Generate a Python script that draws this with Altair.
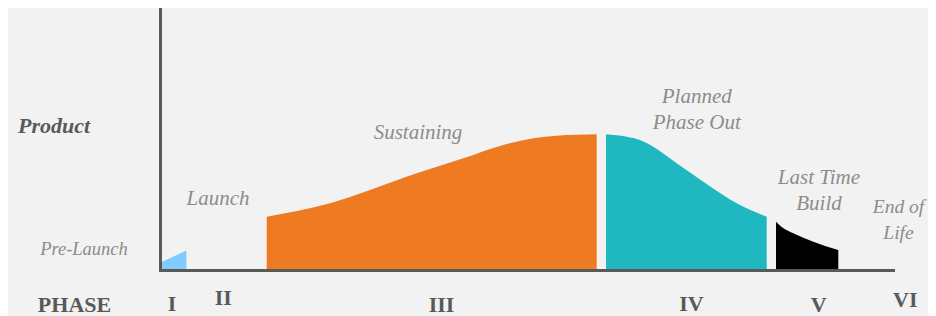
import altair as alt
import pandas as pd

# ---- area segments (x: time 0-100, y: product volume 0-100) ----
seg_names = ["Pre-Launch", "Sustaining", "Phase Out", "Last Time Build"]
seg_colors = ["#80CCFF", "#EE7A22", "#1FB8C1", "#000000"]

blue_x = [0.0, 3.6]
blue_y = [2.8, 7.4]
orange_x = [14.56, 23.19, 28.65, 35.02, 41.38, 46.84, 50.93, 54.12, 59.58]
orange_y = [20.34, 25.46, 30.53, 36.91, 42.63, 47.71, 50.27, 51.26, 51.79]
teal_x = [60.85, 63.67, 65.48, 67.30, 70.49, 74.12, 78.68, 82.77]
teal_y = [51.79, 50.88, 49.62, 47.06, 40.73, 33.70, 25.46, 20.34]
black_x = [84.04, 84.81, 86.40, 89.13, 92.54]
black_y = [18.44, 16.41, 14.01, 10.80, 7.63]

# ---- italic stage labels ----
stage_labels = ["Pre-Launch", "Launch", "Sustaining", "Planned", "Phase Out",
                "Last Time", "Build", "End of", "Life"]
stage_x = [-10.37, 7.91, 35.20, 73.22, 73.22, 89.90, 89.90, 100.75, 100.75]
stage_y = [5.73, 24.81, 50.0, 63.63, 53.70, 32.71, 22.90, 21.64, 11.72]
stage_size = [18.5, 21, 21, 21, 21, 21, 21, 19.5, 19.5]

# ---- bold labels ----
title_labels = ["Product"]
title_x = [-14.46]
title_y = [52.29]

phase_labels = ["PHASE", "I", "II", "III", "IV", "V", "VI"]
phase_x = [-11.66, 1.64, 8.64, 38.40, 72.49, 89.86, 101.68]
phase_y = [-15.92, -15.65, -13.36, -16.0, -15.53, -15.92, -14.0]

rows = []
for name, sx, sy in zip(seg_names, [blue_x, orange_x, teal_x, black_x],
                        [blue_y, orange_y, teal_y, black_y]):
    for a, b in zip(sx, sy):
        rows.append({"segment": name, "x": a, "y": b})
area_df = pd.DataFrame(rows)

stage_df = pd.DataFrame({"label": stage_labels, "x": stage_x, "y": stage_y, "size": stage_size})
title_df = pd.DataFrame({"label": title_labels, "x": title_x, "y": title_y})
phase_df = pd.DataFrame({"label": phase_labels, "x": phase_x, "y": phase_y})

axis = alt.Axis(domain=True, domainColor="#595959", domainWidth=3, domainCap="square",
                ticks=False, labels=False, grid=False, title=None, zindex=1)
xscale = alt.Scale(domain=[0, 100], nice=False, zero=False)
yscale = alt.Scale(domain=[0, 100], nice=False, zero=True)
xs = alt.X("x:Q", scale=xscale, axis=axis)
ys = alt.Y("y:Q", scale=yscale, axis=axis)

areas = alt.Chart(area_df).mark_area(interpolate="monotone", opacity=1).encode(
    x=xs,
    y=alt.Y("y:Q", scale=yscale, axis=axis, stack=None),
    color=alt.Color("segment:N", scale=alt.Scale(domain=seg_names, range=seg_colors), legend=None),
)

FONT = "Liberation Serif"

stage_text = alt.Chart(stage_df).mark_text(
    font=FONT, fontStyle="italic", color="#8C8C8C", align="center", baseline="alphabetic"
).encode(x=xs, y=ys, text="label:N", size=alt.Size("size:Q", scale=None, legend=None))

title_text = alt.Chart(title_df).mark_text(
    font=FONT, fontStyle="italic", fontWeight="bold", fontSize=22, color="#595959",
    align="center", baseline="alphabetic"
).encode(x=xs, y=ys, text="label:N")

phase_text = alt.Chart(phase_df).mark_text(
    font=FONT, fontWeight="bold", fontSize=22, color="#595959",
    align="center", baseline="alphabetic"
).encode(x=xs, y=ys, text="label:N")

chart = alt.layer(areas, stage_text, title_text, phase_text).properties(
    width=733, height=262,
    padding={"left": 152, "top": 0, "right": 35, "bottom": 46},
    autosize=alt.AutoSizeParams(type="none"),
    background="#F2F2F2",
).configure_view(stroke=None)

chart.save("out.html", embed_options={"renderer": "svg", "actions": False})
